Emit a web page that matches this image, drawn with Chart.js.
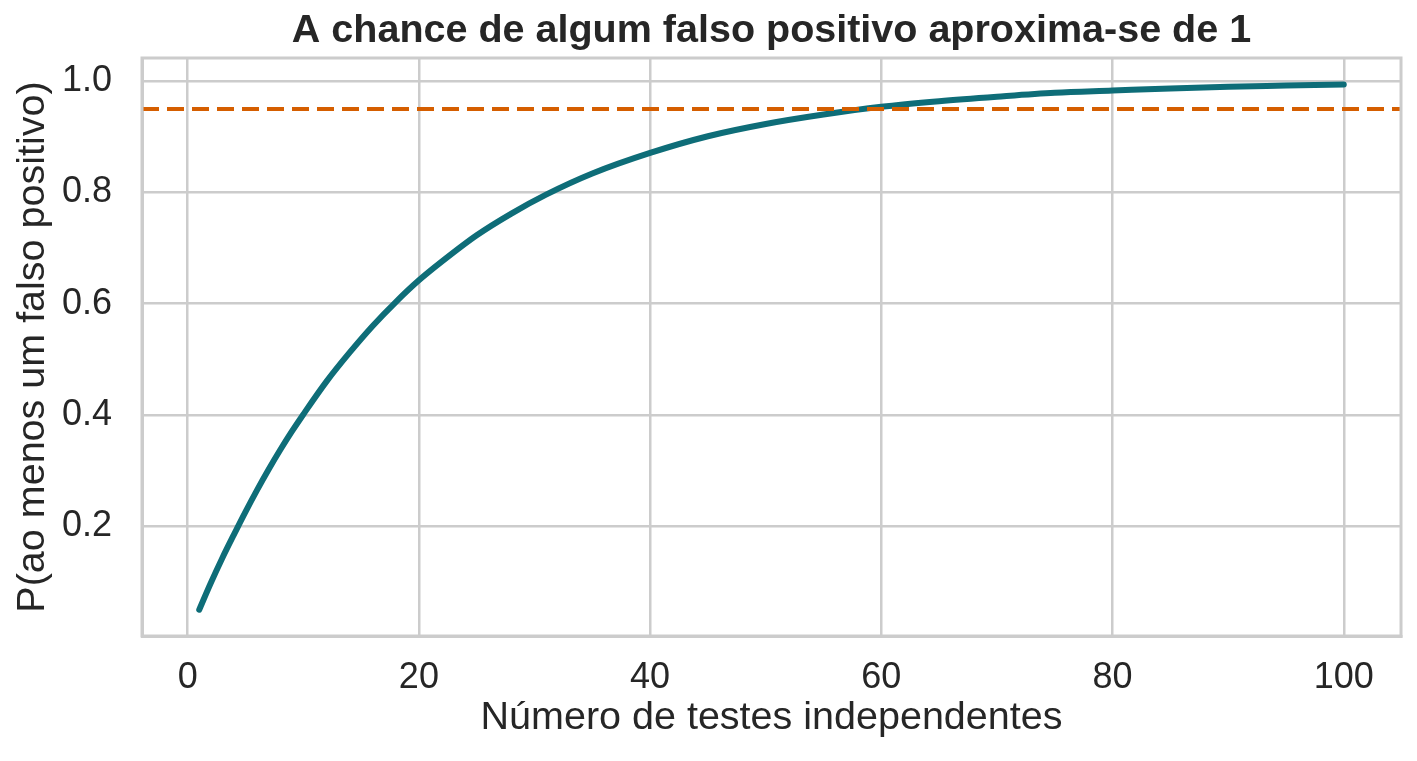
<!DOCTYPE html>
<html lang="pt">
<head>
  <meta charset="UTF-8" />
  <title>A chance de algum falso positivo aproxima-se de 1</title>
  <script src="https://cdn.jsdelivr.net/npm/chart.js"></script>
  <style>
    html, body {
      margin: 0;
      padding: 0;
      background: #fff;
      overflow: hidden;
    }
    canvas {
      display: block;
    }
  </style>
</head>
<body>
  <canvas id="fpChart" width="1417" height="761"></canvas>

  <script>
    // number of independent tests and P(at least one false positive)
    const testCounts = [1, 2, 3, 4, 5, 6, 7, 8, 9, 10, 12, 14, 16, 18, 20, 22, 25, 28, 31, 35,
                        40, 45, 50, 55, 60, 65, 70, 75, 80, 85, 90, 95, 100];
    const probAnyFP = [0.050, 0.098, 0.143, 0.185, 0.226, 0.265, 0.302, 0.337, 0.370, 0.401,
                       0.460, 0.512, 0.560, 0.603, 0.642, 0.676, 0.723, 0.762, 0.796, 0.834,
                       0.871, 0.901, 0.923, 0.940, 0.954, 0.964, 0.972, 0.979, 0.983, 0.987,
                       0.990, 0.992, 0.994];
    const threshold = 0.95;

    const xTicks = [0, 20, 40, 60, 80, 100];
    const yTicks = [0.2, 0.4, 0.6, 0.8, 1.0];
    const xRange = [-3.95, 104.95];
    const yRange = [0.0028, 1.0416];

    const gridColor = '#cccccc';
    const textColor = '#262626';
    const fontFamily = "'Liberation Sans', Arial, sans-serif";

    // top and right spines (chart.js only draws the axis-side borders)
    const boxPlugin = {
      id: 'box',
      afterDraw(chart) {
        const a = chart.chartArea;
        const ctx = chart.ctx;
        ctx.save();
        ctx.strokeStyle = gridColor;
        ctx.lineWidth = 3;
        ctx.strokeRect(a.left, a.top, a.right - a.left, a.bottom - a.top);
        ctx.restore();
      }
    };

    new Chart(document.getElementById('fpChart'), {
      type: 'line',
      data: {
        datasets: [
          {
            label: 'P(ao menos um falso positivo)',
            data: testCounts.map((n, i) => ({ x: n, y: probAnyFP[i] })),
            borderColor: '#0e6d78',
            borderWidth: 6,
            borderCapStyle: 'round',
            pointRadius: 0,
            cubicInterpolationMode: 'monotone',
            fill: false,
            order: 2
          },
          {
            label: 'limiar 0.95',
            data: xRange.map(x => ({ x: x, y: threshold })),
            borderColor: '#d55e00',
            borderWidth: 4,
            borderDash: [17, 8],
            pointRadius: 0,
            fill: false,
            order: 1
          }
        ]
      },
      options: {
        responsive: false,
        animation: false,
        devicePixelRatio: 1,
        layout: { padding: { left: 0, right: 16, top: 0, bottom: 0 } },
        plugins: {
          legend: { display: false },
          tooltip: { enabled: false },
          title: {
            display: true,
            fullSize: false,
            text: 'A chance de algum falso positivo aproxima-se de 1',
            color: textColor,
            font: { family: fontFamily, size: 39.5, weight: 'bold', lineHeight: 1.2 },
            padding: { top: 7, bottom: 3.6 }
          }
        },
        scales: {
          x: {
            type: 'linear',
            min: xRange[0],
            max: xRange[1],
            afterBuildTicks: s => { s.ticks = xTicks.map(v => ({ value: v })); },
            afterFit: s => { s.height = 125; },
            grid: { color: gridColor, lineWidth: 2.5, drawTicks: false },
            border: { color: gridColor, width: 3 },
            ticks: {
              color: textColor,
              padding: 20,
              maxRotation: 0,
              font: { family: fontFamily, size: 36 }
            },
            title: {
              display: true,
              text: 'Número de testes independentes',
              color: textColor,
              font: { family: fontFamily, size: 39.5, lineHeight: 1.2 },
              padding: { top: 19, bottom: 19 }
            }
          },
          y: {
            type: 'linear',
            min: yRange[0],
            max: yRange[1],
            afterBuildTicks: s => { s.ticks = yTicks.map(v => ({ value: v })); },
            afterFit: s => { s.width = 142; },
            grid: { color: gridColor, lineWidth: 2.5, drawTicks: false },
            border: { color: gridColor, width: 3 },
            ticks: {
              color: textColor,
              padding: 30,
              callback: v => v.toFixed(1),
              font: { family: fontFamily, size: 36 }
            },
            title: {
              display: true,
              text: 'P(ao menos um falso positivo)',
              color: textColor,
              font: { family: fontFamily, size: 39.5, lineHeight: 1.2 },
              padding: { top: 9, bottom: 9 }
            }
          }
        }
      },
      plugins: [boxPlugin]
    });
  </script>
</body>
</html>
